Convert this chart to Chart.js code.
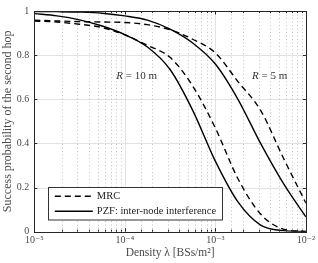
<!DOCTYPE html>
<html><head><meta charset="utf-8">
<script src="https://cdn.jsdelivr.net/npm/chart.js@4/dist/chart.umd.min.js"></script>
<style>html,body{margin:0;padding:0;background:#fff}#wrap{width:318px;height:263px;position:relative}</style>
</head><body><div id="wrap"><canvas id="c"></canvas></div>
<script>
// Density samples (BSs/m^2), quarter-decade spacing
const density = [1e-5, 1.778e-5, 3.162e-5, 5.623e-5, 1e-4, 1.778e-4, 3.162e-4, 5.623e-4, 1e-3, 1.778e-3, 3.162e-3, 5.623e-3, 1e-2];
// Success probability
const pzfR10 = [0.988, 0.978, 0.960, 0.932, 0.893, 0.837, 0.735, 0.550, 0.320, 0.135, 0.030, 0.005, 0.001];
const mrcR10 = [0.955, 0.950, 0.940, 0.925, 0.892, 0.844, 0.790, 0.660, 0.470, 0.240, 0.080, 0.012, 0.001];
const pzfR5  = [0.998, 0.997, 0.995, 0.990, 0.978, 0.959, 0.918, 0.855, 0.760, 0.600, 0.400, 0.220, 0.067];
const mrcR5  = [0.958, 0.955, 0.952, 0.950, 0.948, 0.938, 0.915, 0.872, 0.810, 0.680, 0.550, 0.335, 0.130];

const xTickLabels = {'-5': '10⁻⁵', '-4': '10⁻⁴', '-3': '10⁻³', '-2': '10⁻²'};
const yTickValues = [0, 0.2, 0.4, 0.6, 0.8, 1];
const legendLabels = ['MRC', 'PZF: inter-node interference'];
const curveNotes = [
  {italic: 'R', rest: ' = 10 m', x: 1.35e-4, y: 0.704},
  {italic: 'R', rest: ' = 5 m', x: 3.98e-3, y: 0.704}
];
const xTitle = 'Density λ [BSs/m²]';
const yTitle = 'Success probability of the second hop';

const SERIF = '"Liberation Serif", "DejaVu Serif", serif';
const TEXT = '#4a4a4a';
const AXIS = '#262626';

function pts(ys) { return density.map((x, i) => ({x: x, y: ys[i]})); }
function isDecade(v) { const l = Math.log10(v); return Math.abs(l - Math.round(l)) < 1e-6; }

const gridPlugin = {
  id: 'matlabGrid',
  beforeDatasetsDraw(chart) {
    const {ctx, chartArea: a, scales: {x, y}} = chart;
    ctx.save();
    ctx.lineWidth = 1;
    ctx.strokeStyle = '#e2e2e2';
    ctx.setLineDash([]);
    y.ticks.forEach(t => {
      if (t.value <= 0 || t.value >= 1) return;
      const py = Math.round(y.getPixelForValue(t.value)) + 0.5;
      ctx.beginPath(); ctx.moveTo(a.left, py); ctx.lineTo(a.right, py); ctx.stroke();
    });
    x.ticks.forEach(t => {
      const px = Math.round(x.getPixelForValue(t.value)) + 0.5;
      if (px <= a.left + 1 || px >= a.right - 1) return;
      if (isDecade(t.value)) { ctx.strokeStyle = '#e2e2e2'; ctx.setLineDash([]); }
      else { ctx.strokeStyle = '#c4c4c4'; ctx.setLineDash([1, 2.5]); }
      ctx.beginPath(); ctx.moveTo(px, a.top); ctx.lineTo(px, a.bottom); ctx.stroke();
    });
    ctx.restore();
  },
  afterDraw(chart) {
    const {ctx, chartArea: a, scales: {x, y}} = chart;
    ctx.save();
    ctx.strokeStyle = AXIS; ctx.lineWidth = 1; ctx.setLineDash([]);
    y.ticks.forEach(t => {
      const py = Math.round(y.getPixelForValue(t.value)) + 0.5;
      ctx.beginPath();
      ctx.moveTo(a.left, py); ctx.lineTo(a.left + 3, py);
      ctx.moveTo(a.right, py); ctx.lineTo(a.right - 3, py);
      ctx.stroke();
    });
    x.ticks.forEach(t => {
      const px = Math.round(x.getPixelForValue(t.value)) + 0.5;
      const len = isDecade(t.value) ? 3.5 : 2;
      ctx.beginPath();
      ctx.moveTo(px, a.bottom); ctx.lineTo(px, a.bottom - len);
      ctx.moveTo(px, a.top); ctx.lineTo(px, a.top + len);
      ctx.stroke();
    });
    ctx.strokeRect(Math.round(a.left) + 0.5, Math.round(a.top) + 0.5, Math.round(a.right - a.left), Math.round(a.bottom - a.top));

    ctx.fillStyle = '#333';
    ctx.textBaseline = 'middle';
    curveNotes.forEach(n => {
      const fI = 'italic 11px ' + SERIF, fR = '11px ' + SERIF;
      ctx.font = fI; const wI = ctx.measureText(n.italic).width;
      ctx.font = fR; const wR = ctx.measureText(n.rest).width;
      const cx = x.getPixelForValue(n.x), cy = y.getPixelForValue(n.y);
      let sx = cx - (wI + wR) / 2;
      ctx.font = fI; ctx.textAlign = 'left'; ctx.fillText(n.italic, sx, cy);
      ctx.font = fR; ctx.fillText(n.rest, sx + wI, cy);
    });

    const lx = a.left + 13.5, ly = a.bottom - 45, lw = 174, lh = 32.5;
    ctx.fillStyle = '#fff';
    ctx.fillRect(lx, ly, lw, lh);
    ctx.strokeStyle = '#333';
    ctx.strokeRect(Math.round(lx) + 0.5, Math.round(ly) + 0.5, lw, lh);
    const dsForLegend = [chart.data.datasets[1], chart.data.datasets[0]];
    legendLabels.forEach((lab, i) => {
      const ds = dsForLegend[i];
      const yy = ly + 9.5 + i * 15;
      ctx.strokeStyle = '#000'; ctx.lineWidth = 1.4;
      ctx.setLineDash(ds.borderDash || []);
      ctx.beginPath(); ctx.moveTo(lx + 7, yy); ctx.lineTo(lx + 45, yy); ctx.stroke();
      ctx.setLineDash([]);
      ctx.fillStyle = '#222'; ctx.font = '10.5px ' + SERIF; ctx.textAlign = 'left'; ctx.textBaseline = 'middle';
      ctx.fillText(lab, lx + 49, yy);
    });
    ctx.restore();
  }
};

const common = {borderColor: '#000', borderWidth: 1.4, pointRadius: 0, fill: false, cubicInterpolationMode: 'monotone'};

new Chart(document.getElementById('c'), {
  type: 'line',
  data: {
    datasets: [
      Object.assign({label: 'PZF R=10', data: pts(pzfR10)}, common),
      Object.assign({label: 'MRC R=10', data: pts(mrcR10), borderDash: [6, 4]}, common),
      Object.assign({label: 'PZF R=5', data: pts(pzfR5)}, common),
      Object.assign({label: 'MRC R=5', data: pts(mrcR5), borderDash: [6, 4]}, common)
    ]
  },
  options: {
    responsive: true, maintainAspectRatio: false, animation: false,
    layout: {padding: {left: 0, right: 8, top: 7, bottom: 0}},
    plugins: {legend: {display: false}, tooltip: {enabled: false}},
    scales: {
      x: {
        type: 'logarithmic', min: 1e-5, max: 1e-2,
        grid: {display: false, drawTicks: false},
        border: {display: false},
        afterFit(s) { s.height = 31.3; },
        ticks: {
          autoSkip: false, maxRotation: 0, padding: 3, color: TEXT,
          font: {family: SERIF, size: 10},
          callback(v) { return isDecade(v) ? (xTickLabels[String(Math.round(Math.log10(v)))] || '') : ''; }
        },
        title: {display: true, text: xTitle, color: TEXT, font: {family: SERIF, size: 11.5}, padding: {top: 0, bottom: 3}}
      },
      y: {
        min: 0, max: 1,
        grid: {display: false, drawTicks: false},
        border: {display: false},
        afterFit(s) { s.width = 34.3; },
        afterBuildTicks(s) { s.ticks = yTickValues.map(v => ({value: v})); },
        ticks: {
          padding: 5, color: TEXT, font: {family: SERIF, size: 10},
          callback(v) { return (v === 0 || v === 1) ? String(v) : v.toFixed(1); }
        },
        title: {display: true, text: yTitle, color: TEXT, font: {family: SERIF, size: 12}, padding: {top: 0.5, bottom: 0}}
      }
    }
  },
  plugins: [gridPlugin]
});
</script>
</body></html>
